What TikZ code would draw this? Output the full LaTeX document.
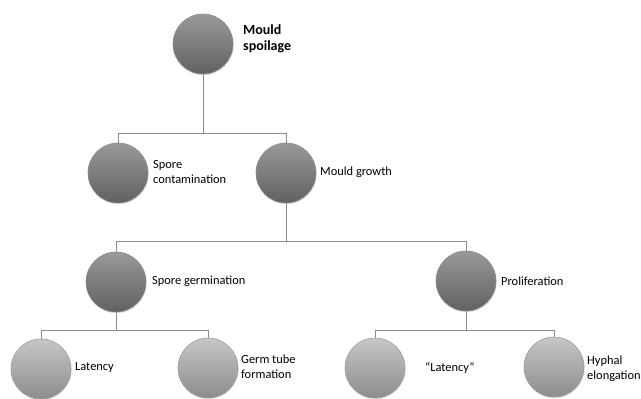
\documentclass[tikz,border=0pt]{standalone}
\usepackage{fontspec}
\setmainfont{Carlito}
\usetikzlibrary{shadows}
\begin{document}
\begin{tikzpicture}[x=1pt,y=-1pt,
  ball/.style={circle,minimum size=60pt,inner sep=0pt,draw=black!45,line width=0.6pt,
    top color=black!40,bottom color=black!62,shading angle=0,
    drop shadow={shadow xshift=0.6pt,shadow yshift=-1.2pt,opacity=0.25}},
  lightball/.style={ball,top color=black!22,bottom color=black!45,draw=black!38},
  lbl/.style={anchor=west,align=left,inner sep=0pt,font=\fontsize{12.4}{15}\selectfont},
  conn/.style={draw=black!45,line width=0.9pt}]
\clip (0,0) rectangle (641,399);
\fill[white] (0,0) rectangle (641,399);
% buses
\coordinate (b1) at (0,133);
\coordinate (b2) at (0,241);
\coordinate (b3) at (0,330);
% circles
\node[ball] (ms) at (203,44) {};
\node[ball] (sc) at (118,173) {};
\node[ball] (mg) at (286,173) {};
\node[ball] (sg) at (116,282) {};
\node[ball] (pr) at (466,281) {};
\node[lightball] (la) at (41,369) {};
\node[lightball] (gt) at (208,368) {};
\node[lightball] (ql) at (375,368) {};
\node[lightball] (he) at (554,367) {};
% labels
\node[lbl,font=\fontsize{14}{16}\selectfont\bfseries] (tms) at (243,39) {Mould\\spoilage};
\node[lbl] (tsc) at (153,172) {Spore\\contamination};
\node[lbl] (tmg) at (320,172) {Mould growth};
\node[lbl] (tsg) at (152,281) {Spore germination};
\node[lbl] (tpr) at (501,281) {Proliferation};
\node[lbl] (tla) at (75,368) {Latency};
\node[lbl] (tgt) at (241,367) {Germ tube\\formation};
\node[lbl] (tql) at (425,368) {“Latency”};
\node[lbl] (the) at (587,369) {Hyphal\\elongation};
% connectors
\path[conn] (ms.south) -- (ms |- b1) -| (sc.north);
\path[conn] (ms |- b1) -| (mg.north);
\path[conn] (mg.south) -- (mg |- b2) -| (sg.north);
\path[conn] (mg |- b2) -| (pr.north);
\path[conn] (sg.south) -- (sg |- b3) -| (la.north);
\path[conn] (sg |- b3) -| (gt.north);
\path[conn] (pr.south) -- (pr |- b3) -| (ql.north);
\path[conn] (pr |- b3) -| (he.north);
\end{tikzpicture}
\end{document}
